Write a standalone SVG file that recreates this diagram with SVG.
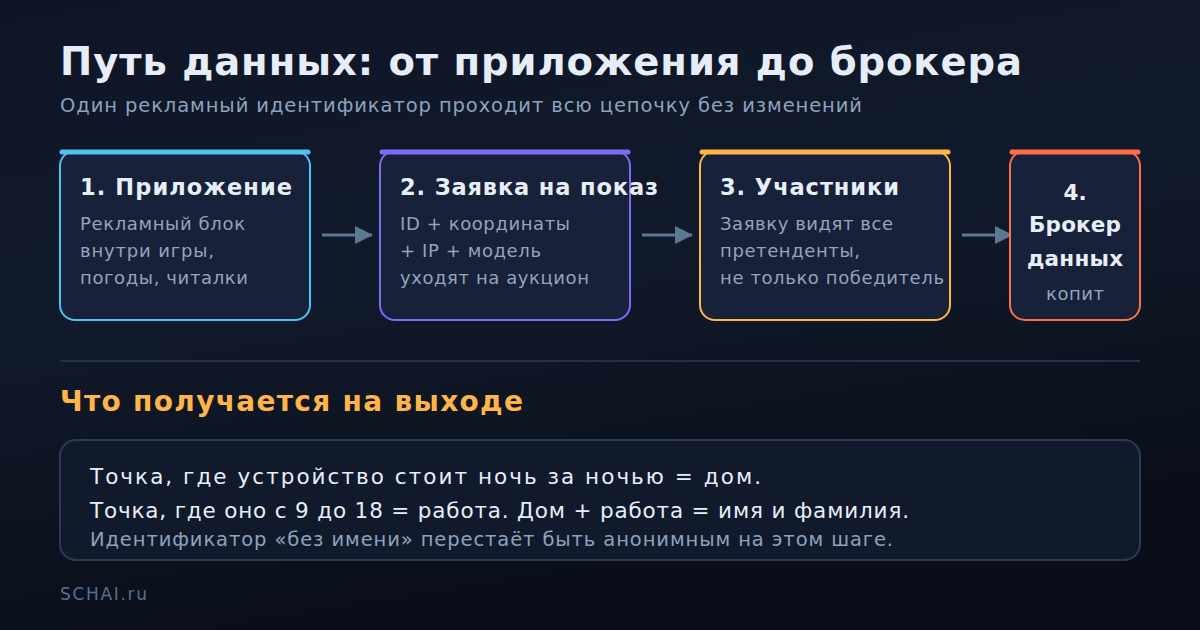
<svg xmlns="http://www.w3.org/2000/svg" width="1200" height="630" viewBox="0 0 1200 630" font-family="'DejaVu Sans', Verdana, sans-serif">
<defs>
<linearGradient id="bg" x1="0" y1="0" x2="0.3" y2="1">
<stop offset="0" stop-color="#0e1626"/>
<stop offset="0.5" stop-color="#111a2b"/>
<stop offset="1" stop-color="#090e18"/>
</linearGradient>
<marker id="arr" viewBox="0 0 18 18" refX="17" refY="9" markerWidth="18" markerHeight="18" markerUnits="userSpaceOnUse" orient="auto">
<path d="M0,0 L18,9 L0,18 z" fill="#5b7894"/>
</marker>
</defs>
<style>
text{font-family:'DejaVu Sans',Verdana,sans-serif}
.card{fill:#172139;stroke-width:2}
.bar{stroke-width:5;stroke-linecap:round;fill:none}
.ct{font-size:22.5px;font-weight:bold;fill:#e8eef8}
.c4{font-size:21.5px;font-weight:bold;fill:#e8eef8}
.cb{font-size:18px;fill:#94a4bc}
.conn{stroke:#5b7894;stroke-width:3;fill:none}
</style>
<rect width="1200" height="630" fill="url(#bg)"/>
<text x="60" y="75" font-size="38.5" font-weight="bold" fill="#e6edf8" textLength="962" lengthAdjust="spacing">Путь данных: от приложения до брокера</text>
<text x="60" y="112" font-size="19.5" fill="#8ea2bd" textLength="802" lengthAdjust="spacing">Один рекламный идентификатор проходит всю цепочку без изменений</text>

<g id="connectors">
<line class="conn" x1="322" y1="235" x2="372" y2="235" marker-end="url(#arr)"/>
<line class="conn" x1="642" y1="235" x2="692" y2="235" marker-end="url(#arr)"/>
<line class="conn" x1="962" y1="235" x2="1012" y2="235" marker-end="url(#arr)"/>
</g>

<g id="node1">
<rect class="card" x="60" y="151" width="250" height="169" rx="15" stroke="#4cc3f2"/>
<line class="bar" x1="62" y1="152" x2="308" y2="152" stroke="#4cc3f2"/>
<text class="ct" x="80" y="195" textLength="212" lengthAdjust="spacing">1. Приложение</text>
<text class="cb" x="80" y="230" textLength="165" lengthAdjust="spacing">Рекламный блок</text>
<text class="cb" x="80" y="257" textLength="134" lengthAdjust="spacing">внутри игры,</text>
<text class="cb" x="80" y="284" textLength="168" lengthAdjust="spacing">погоды, читалки</text>
</g>

<g id="node2">
<rect class="card" x="380" y="151" width="250" height="169" rx="15" stroke="#7b6cf6"/>
<line class="bar" x1="382" y1="152" x2="628" y2="152" stroke="#7b6cf6"/>
<text class="ct" x="400" y="195" textLength="258" lengthAdjust="spacing">2. Заявка на показ</text>
<text class="cb" x="400" y="230" textLength="170" lengthAdjust="spacing">ID + координаты</text>
<text class="cb" x="400" y="257" textLength="141" lengthAdjust="spacing">+ IP + модель</text>
<text class="cb" x="400" y="284" textLength="189" lengthAdjust="spacing">уходят на аукцион</text>
</g>

<g id="node3">
<rect class="card" x="700" y="151" width="250" height="169" rx="15" stroke="#ffb547"/>
<line class="bar" x1="702" y1="152" x2="948" y2="152" stroke="#ffb547"/>
<text class="ct" x="720" y="195" textLength="179" lengthAdjust="spacing">3. Участники</text>
<text class="cb" x="720" y="230" textLength="173" lengthAdjust="spacing">Заявку видят все</text>
<text class="cb" x="720" y="257" textLength="140" lengthAdjust="spacing">претенденты,</text>
<text class="cb" x="720" y="284" textLength="224" lengthAdjust="spacing">не только победитель</text>
</g>

<g id="node4">
<rect class="card" x="1010" y="151" width="130" height="169" rx="15" stroke="#ff6f45"/>
<line class="bar" x1="1012" y1="152" x2="1138" y2="152" stroke="#ff6f45"/>
<text class="c4" x="1075" y="200" text-anchor="middle">4.</text>
<text class="c4" x="1075" y="232" text-anchor="middle" textLength="92" lengthAdjust="spacing">Брокер</text>
<text class="c4" x="1075" y="266" text-anchor="middle" textLength="96" lengthAdjust="spacing">данных</text>
<text class="cb" x="1075" y="300" text-anchor="middle" textLength="58" lengthAdjust="spacing">копит</text>
</g>

<line x1="60" y1="361" x2="1140" y2="361" stroke="#23314b" stroke-width="2"/>
<text x="60" y="411" font-size="28" font-weight="bold" fill="#ffb547" textLength="463" lengthAdjust="spacing">Что получается на выходе</text>

<g id="result">
<rect x="60" y="440" width="1080" height="120" rx="16" fill="#111a2b" stroke="#2a3a56" stroke-width="2"/>
<text x="90" y="484" font-size="21.5" fill="#e8eef8" textLength="671" lengthAdjust="spacing">Точка, где устройство стоит ночь за ночью = дом.</text>
<text x="90" y="518" font-size="21.5" fill="#e8eef8" textLength="819" lengthAdjust="spacing">Точка, где оно с 9 до 18 = работа. Дом + работа = имя и фамилия.</text>
<text x="90" y="546" font-size="19.5" fill="#8ea2bd" textLength="803" lengthAdjust="spacing">Идентификатор «без имени» перестаёт быть анонимным на этом шаге.</text>
</g>

<text x="60" y="600" font-size="17" fill="#587092" textLength="87" lengthAdjust="spacing">SCHAI.ru</text>
</svg>
